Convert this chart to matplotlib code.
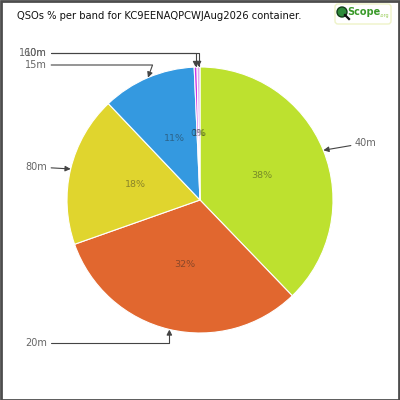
import numpy as np
import matplotlib
matplotlib.use("Agg")
import matplotlib.pyplot as plt
from matplotlib.patches import Rectangle, FancyBboxPatch, Circle

bands = ["40m", "20m", "80m", "15m", "10m", "160m"]
shares = [37.8, 31.8, 18.3, 11.4, 0.35, 0.35]
pct_labels = ["38%", "32%", "18%", "11%", "0%", "1%"]
colors = ["#bde12f", "#e1672f", "#e0d52e", "#3499e0", "#cc37e4", "#dfa9ef"]
title = "QSOs % per band for KC9EENAQPCWJAug2026 container."

W = H = 400
fig = plt.figure(figsize=(4, 4), dpi=100)
ax = fig.add_axes([0, 0, 1, 1])

cx, cy, R = 200, 200, 133
wedges, _ = ax.pie(shares, colors=colors, startangle=90, counterclock=False,
                   center=(cx, cy), radius=R, frame=True,
                   wedgeprops=dict(edgecolor="white", linewidth=0.8))
ax.set_xlim(0, W)
ax.set_ylim(0, H)
ax.set_aspect("equal")
ax.axis("off")

# percent labels inside
for w, t in zip(wedges, pct_labels):
    mid = np.deg2rad((w.theta1 + w.theta2) / 2)
    x = cx + 0.5 * R * np.cos(mid)
    y = cy + 0.5 * R * np.sin(mid)
    ax.text(x, y, t, ha="center", va="center", fontsize=6.8,
            color="#222222", alpha=0.45)

# outside labels with arrows
label_pos = {"40m": (355, 400 - 143, "left", "arc3"),
             "20m": (47, 400 - 343, "right", "angle,angleA=0,angleB=90,rad=0"),
             "80m": (47, 400 - 167, "right", "arc3"),
             "15m": (47, 400 - 65, "right", "angle,angleA=0,angleB=70,rad=0"),
             "10m": (47, 400 - 53, "right", "angle,angleA=0,angleB=90,rad=0"),
             "160m": (47, 400 - 53, "right", "angle,angleA=0,angleB=90,rad=0")}
for w, b in zip(wedges, bands):
    mid = np.deg2rad((w.theta1 + w.theta2) / 2)
    px = cx + R * np.cos(mid)
    py = cy + R * np.sin(mid)
    lx, ly, ha, cs = label_pos[b]
    ax.annotate(b, xy=(px, py), xytext=(lx, ly), ha=ha, va="center",
                fontsize=7, color="#666666",
                arrowprops=dict(arrowstyle="-|>", color="#444444", lw=0.8,
                                connectionstyle=cs, shrinkA=1, shrinkB=0,
                                mutation_scale=8))

# title
ax.text(17, 400 - 16, title, ha="left", va="center", fontsize=7.2,
        color="#111111")

# logo
ax.add_patch(FancyBboxPatch((335, 400 - 24), 56, 20,
                            boxstyle="round,pad=0,rounding_size=3",
                            fc="white", ec="#eef3c8", lw=1))
ax.add_patch(Circle((342, 400 - 12), 5, fc="#2e8b3a", ec="#123d18", lw=1))
ax.plot([345, 349], [400 - 15, 400 - 19], color="#111111", lw=1.6)
ax.text(347, 400 - 12, "Scope", ha="left", va="center", fontsize=7,
        color="#3a9a2a", fontweight="bold")
ax.text(379, 400 - 16, ".org", ha="left", va="center", fontsize=3.5,
        color="#9acd5a")

# border
ax.add_patch(Rectangle((0.5, 0.5), W - 1.5, H - 1.5, fill=False,
                       ec="#4d4d4d", lw=2, clip_on=False))

fig.savefig("out.png", dpi=100)
